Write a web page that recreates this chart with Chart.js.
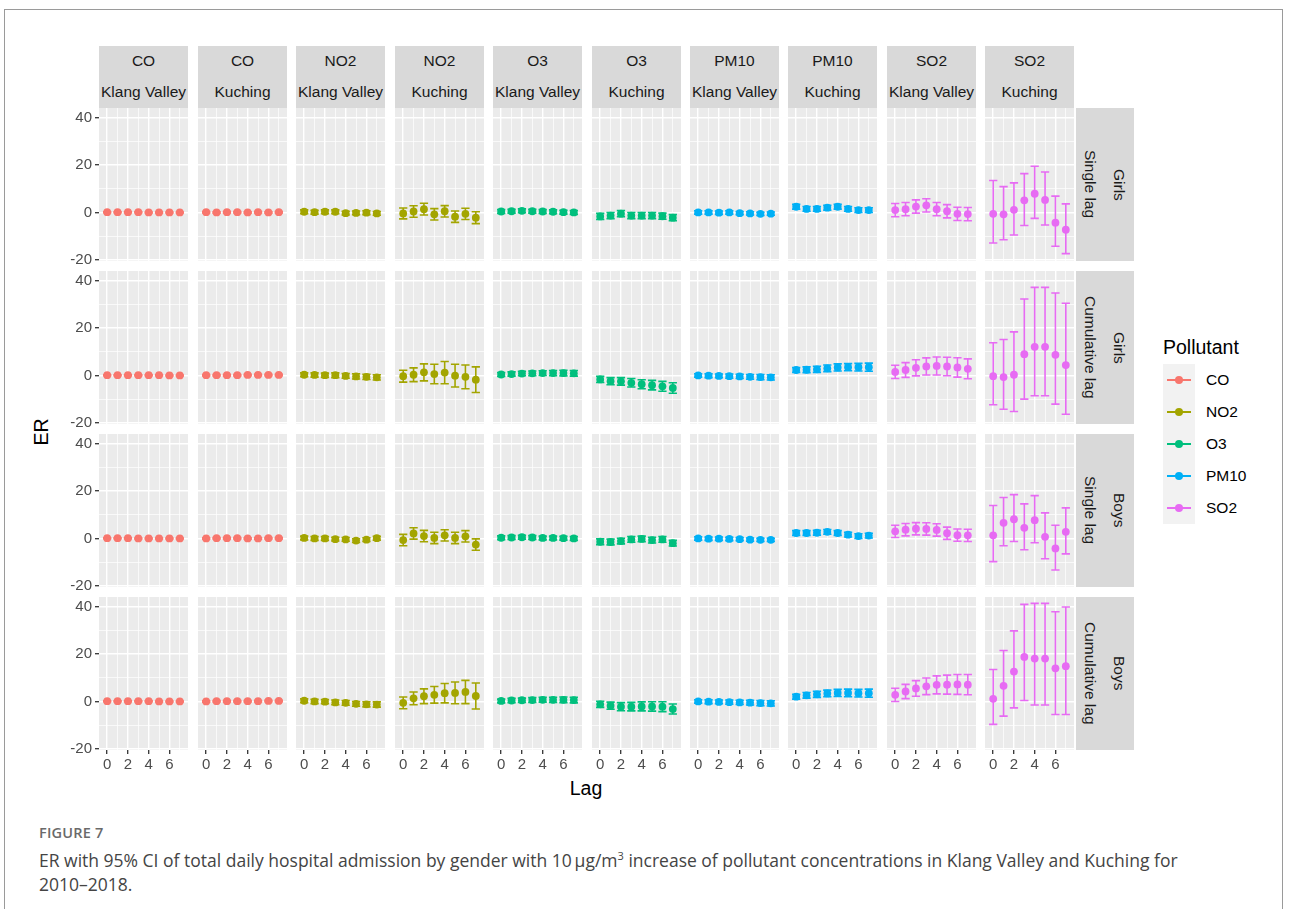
<!DOCTYPE html>
<html>
<head>
<meta charset="utf-8">
<script src="https://cdn.jsdelivr.net/npm/chart.js@4.4.1/dist/chart.umd.min.js"></script>
<style>
  body { margin: 0; width: 1290px; height: 909px; background: #fff; position: relative; overflow: hidden;
         font-family: 'Liberation Sans', Arial, sans-serif; }
  #frame { position: absolute; left: 4px; top: 9px; width: 1279px; height: 920px; border: 1px solid #9a9a9a; box-sizing: border-box; }
  canvas { position: absolute; }
  .strip { position: absolute; background: #D9D9D9; color: #1A1A1A; font-size: 15.5px; display: flex;
           align-items: center; justify-content: center; white-space: nowrap; overflow: hidden; }
  .vstrip { writing-mode: vertical-rl; }
  .title { position: absolute; color: #000; font-size: 19.5px; white-space: nowrap; }
  #legend { position: absolute; left: 1163px; top: 334px; }
  #legend .lt { font-size: 19.5px; color: #000; height: 30px; line-height: 26px; }
  #legend .row { display: flex; align-items: center; height: 32px; }
  #legend .key { width: 32px; height: 32px; background: #F2F2F2; position: relative; }
  #legend .key .ln { position: absolute; left: 4px; right: 4px; top: 15px; height: 1.6px; }
  #legend .key .dt { position: absolute; left: 12px; top: 12px; width: 8px; height: 8px; border-radius: 50%; }
  #legend .lab { margin-left: 11px; font-size: 15.5px; color: #000; }
  #fig { position: absolute; left: 39px; top: 823px; font-family: 'Open Sans', Lato, sans-serif; font-size: 14.5px;
         font-weight: 600; color: #6a6a6a; letter-spacing: 0.2px; }
  #cap { position: absolute; left: 39px; top: 848px; width: 1240px; font-family: 'Open Sans', Lato, sans-serif;
         font-size: 17.5px; line-height: 24px; color: #444; white-space: nowrap; }
  #cap sup { font-size: 11px; line-height: 0; }
</style>
</head>
<body>
<div id="frame"></div>
<script>
// facets
const lags = [0, 1, 2, 3, 4, 5, 6, 7];
const xTickLabels = [0, 2, 4, 6];
const yTickLabels = [-20, 0, 20, 40];
const yMinorTicks = [-10, 10, 30];
const pollutants = ['CO', 'NO2', 'O3', 'PM10', 'SO2'];
const locations = ['Klang Valley', 'Kuching'];
const lagTypes = ['Single lag', 'Cumulative lag', 'Single lag', 'Cumulative lag'];
const genders = ['Girls', 'Girls', 'Boys', 'Boys'];

// ER estimates and 95% CI, rows: Girls single, Girls cumulative, Boys single, Boys cumulative
const coKlangEst = [[0.1,0.1,0.1,0.1,0.0,0.0,0.0,0.0],[0.1,0.1,0.1,0.1,0.1,0.1,0.0,0.0],[0.1,0.1,0.1,0.0,0.0,0.0,0.0,0.0],[0.1,0.1,0.1,0.1,0.1,0.0,0.0,0.0]];
const coKlangLo  = [[-0.1,-0.1,-0.1,-0.1,-0.2,-0.2,-0.2,-0.2],[-0.1,-0.1,-0.1,-0.1,-0.1,-0.1,-0.2,-0.2],[-0.1,-0.1,-0.1,-0.2,-0.2,-0.2,-0.2,-0.2],[-0.1,-0.1,-0.1,-0.1,-0.1,-0.2,-0.2,-0.2]];
const coKlangHi  = [[0.3,0.3,0.3,0.3,0.2,0.2,0.2,0.2],[0.3,0.3,0.3,0.3,0.3,0.3,0.2,0.2],[0.3,0.3,0.3,0.2,0.2,0.2,0.2,0.2],[0.3,0.3,0.3,0.3,0.3,0.2,0.2,0.2]];

const coKuchingEst = [[0.1,0.0,0.1,0.1,0.0,0.1,0.0,0.1],[0.1,0.1,0.1,0.1,0.2,0.2,0.2,0.2],[0.0,0.1,0.1,0.1,0.0,0.0,0.1,0.1],[0.0,0.1,0.1,0.1,0.1,0.1,0.2,0.2]];
const coKuchingLo  = [[-0.2,-0.3,-0.2,-0.2,-0.3,-0.2,-0.3,-0.2],[-0.2,-0.2,-0.2,-0.2,-0.1,-0.1,-0.1,-0.1],[-0.3,-0.2,-0.2,-0.2,-0.3,-0.3,-0.2,-0.2],[-0.3,-0.2,-0.2,-0.2,-0.2,-0.2,-0.1,-0.1]];
const coKuchingHi  = [[0.4,0.3,0.4,0.4,0.3,0.4,0.3,0.4],[0.4,0.4,0.4,0.4,0.5,0.5,0.5,0.5],[0.3,0.4,0.4,0.4,0.3,0.3,0.4,0.4],[0.3,0.4,0.4,0.4,0.4,0.4,0.5,0.5]];

const no2KlangEst = [[0.3,0.1,0.3,0.3,-0.3,-0.2,-0.1,-0.4],[0.3,0.2,0.1,0.1,-0.2,-0.4,-0.6,-0.8],[0.2,0.0,0.0,-0.3,-0.4,-0.9,-0.5,0.1],[0.3,0.0,-0.1,-0.4,-0.6,-1.0,-1.2,-1.3]];
const no2KlangLo  = [[-0.5,-0.7,-0.5,-0.5,-1.1,-1.0,-0.9,-1.2],[-0.5,-0.7,-0.8,-0.9,-1.2,-1.5,-1.7,-1.9],[-0.6,-0.8,-0.8,-1.1,-1.2,-1.7,-1.3,-0.7],[-0.5,-0.9,-1.0,-1.4,-1.6,-2.0,-2.3,-2.4]];
const no2KlangHi  = [[1.1,0.9,1.1,1.1,0.5,0.6,0.7,0.4],[1.1,1.1,1.0,1.1,0.8,0.7,0.5,0.3],[1.0,0.8,0.8,0.5,0.4,-0.1,0.3,0.9],[1.1,0.9,0.8,0.6,0.4,0.0,-0.1,-0.2]];

const no2KuchingEst = [[-0.4,0.4,1.4,-0.8,0.5,-1.8,-0.6,-2.2],[-0.3,0.3,1.3,0.6,1.2,-0.1,-0.6,-1.8],[-0.7,2.1,1.0,0.2,1.3,0.2,0.9,-2.6],[-0.6,1.3,2.2,2.8,3.5,3.6,4.0,2.3]];
const no2KuchingLo  = [[-2.7,-2.0,-1.1,-3.2,-1.9,-4.2,-3.0,-4.7],[-2.8,-2.6,-2.3,-3.5,-3.5,-4.9,-5.6,-7.2],[-3.1,-0.3,-1.4,-2.2,-1.1,-2.2,-1.5,-5.0],[-3.1,-1.4,-0.9,-0.7,-0.6,-1.0,-0.9,-3.2]];
const no2KuchingHi  = [[1.9,2.8,3.9,1.6,2.9,0.6,1.8,0.3],[2.2,3.2,4.9,4.7,5.9,4.7,4.4,3.6],[1.7,4.5,3.4,2.6,3.7,2.6,3.3,-0.2],[1.9,4.0,5.3,6.3,7.6,8.2,8.9,7.8]];

const o3KlangEst = [[0.4,0.5,0.7,0.5,0.4,0.3,0.1,0.0],[0.4,0.6,0.8,0.9,1.0,1.0,1.0,0.9],[0.3,0.4,0.5,0.4,0.2,0.2,0.1,0.0],[0.2,0.4,0.5,0.6,0.7,0.7,0.7,0.6]];
const o3KlangLo  = [[-0.4,-0.3,-0.1,-0.3,-0.4,-0.5,-0.7,-0.8],[-0.4,-0.3,-0.1,-0.1,0.0,-0.1,-0.2,-0.3],[-0.5,-0.4,-0.3,-0.4,-0.6,-0.6,-0.7,-0.8],[-0.6,-0.5,-0.4,-0.4,-0.3,-0.4,-0.5,-0.6]];
const o3KlangHi  = [[1.2,1.3,1.5,1.3,1.2,1.1,0.9,0.8],[1.2,1.5,1.7,1.9,2.0,2.1,2.2,2.1],[1.1,1.2,1.3,1.2,1.0,1.0,0.9,0.8],[1.0,1.3,1.4,1.6,1.7,1.8,1.9,1.8]];

const o3KuchingEst = [[-1.7,-1.3,-0.5,-1.3,-1.3,-1.3,-1.6,-2.2],[-1.7,-2.4,-2.5,-3.1,-3.7,-4.1,-4.6,-5.3],[-1.4,-1.5,-1.1,-0.4,-0.2,-0.7,-0.4,-2.0],[-1.2,-1.8,-2.2,-2.2,-2.1,-2.1,-2.2,-3.2]];
const o3KuchingLo  = [[-3.0,-2.6,-1.8,-2.6,-2.6,-2.6,-2.9,-3.5],[-3.0,-3.9,-4.1,-4.9,-5.6,-6.1,-6.7,-7.5],[-2.6,-2.7,-2.3,-1.6,-1.4,-1.9,-1.6,-3.2],[-2.5,-3.3,-3.9,-4.0,-4.0,-4.1,-4.3,-5.3]];
const o3KuchingHi  = [[-0.4,0.0,0.8,0.0,0.0,0.0,-0.3,-0.9],[-0.4,-0.9,-0.9,-1.3,-1.8,-2.1,-2.5,-3.1],[-0.2,-0.3,0.1,0.8,1.0,0.5,0.8,-0.8],[0.1,-0.3,-0.5,-0.4,-0.2,-0.1,-0.1,-1.1]];

const pm10KlangEst = [[0.0,0.0,-0.1,0.0,-0.3,-0.4,-0.6,-0.5],[0.0,-0.1,-0.2,-0.3,-0.4,-0.6,-0.7,-0.8],[0.0,-0.1,-0.1,-0.2,-0.3,-0.5,-0.6,-0.6],[0.0,-0.1,-0.2,-0.3,-0.4,-0.5,-0.7,-0.8]];
const pm10KlangLo  = [[-0.7,-0.7,-0.8,-0.7,-1.0,-1.1,-1.3,-1.2],[-0.7,-0.9,-1.0,-1.2,-1.3,-1.6,-1.8,-1.9],[-0.7,-0.8,-0.8,-0.9,-1.0,-1.2,-1.3,-1.3],[-0.7,-0.9,-1.0,-1.2,-1.3,-1.5,-1.8,-1.9]];
const pm10KlangHi  = [[0.7,0.7,0.6,0.7,0.4,0.3,0.1,0.2],[0.7,0.7,0.6,0.6,0.5,0.4,0.4,0.3],[0.7,0.6,0.6,0.5,0.4,0.2,0.1,0.1],[0.7,0.7,0.6,0.6,0.5,0.5,0.4,0.3]];

const pm10KuchingEst = [[2.4,1.5,1.5,2.0,2.4,1.5,1.0,1.0],[2.3,2.4,2.6,3.0,3.4,3.5,3.5,3.5],[2.3,2.3,2.4,2.8,2.3,1.6,1.0,1.2],[2.0,2.6,3.0,3.4,3.6,3.6,3.5,3.5]];
const pm10KuchingLo  = [[1.4,0.5,0.5,1.0,1.4,0.5,0.0,0.0],[1.3,1.2,1.3,1.6,1.9,2.0,1.9,1.8],[1.3,1.3,1.4,1.8,1.3,0.6,0.0,0.2],[1.0,1.4,1.7,2.0,2.1,2.0,1.9,1.8]];
const pm10KuchingHi  = [[3.4,2.5,2.5,3.0,3.4,2.5,2.0,2.0],[3.3,3.6,3.9,4.4,4.9,5.0,5.1,5.2],[3.3,3.3,3.4,3.8,3.3,2.6,2.0,2.2],[3.0,3.8,4.3,4.8,5.1,5.2,5.1,5.2]];

const so2KlangEst = [[1.0,1.4,2.5,3.0,1.4,0.5,-0.6,-0.7],[1.5,2.3,3.2,3.8,4.0,3.8,3.4,2.8],[3.0,3.7,4.1,4.0,3.6,2.2,1.4,1.3],[2.8,4.2,5.5,6.4,7.0,7.1,7.2,7.1]];
const so2KlangLo  = [[-1.8,-1.4,-0.3,0.2,-1.4,-2.3,-3.4,-3.5],[-1.3,-0.8,-0.2,0.2,0.2,-0.1,-0.7,-1.4],[0.4,1.1,1.5,1.4,1.0,-0.4,-1.2,-1.3],[0.0,1.2,2.2,2.9,3.2,3.1,3.0,2.8]];
const so2KlangHi  = [[3.8,4.2,5.3,5.8,4.2,3.3,2.2,2.1],[4.3,5.4,6.6,7.4,7.8,7.7,7.5,7.0],[5.6,6.3,6.7,6.6,6.2,4.8,4.0,3.9],[5.6,7.2,8.8,9.9,10.8,11.1,11.4,11.4]];

const so2KuchingEst = [[-0.6,-0.8,1.1,5.1,7.9,5.3,-4.3,-7.3],[-0.3,-0.7,0.3,9.0,12.1,12.1,8.7,4.4],[1.3,6.6,8.1,4.5,7.7,0.7,-4.2,2.8],[1.1,6.6,12.6,18.8,18.1,18.1,14.0,14.9]];
const so2KuchingLo  = [[-12.9,-11.5,-9.5,-5.5,-2.5,-5.3,-14.3,-17.4],[-12.4,-14.3,-15.2,-10.0,-8.6,-8.6,-12.1,-16.4],[-9.8,-3.1,-1.3,-4.8,-1.8,-8.6,-13.3,-6.5],[-9.7,-6.2,-2.7,0.4,-1.5,-1.5,-5.5,-5.5]];
const so2KuchingHi  = [[13.5,10.9,12.5,16.4,19.5,17.1,6.9,3.6],[13.8,15.2,18.4,32.3,37.2,37.2,34.8,30.5],[13.9,17.3,18.5,14.6,18.1,10.8,5.6,12.9],[13.5,21.5,29.8,41.0,41.4,41.4,37.9,39.9]];

const panels = [
  { pol: 'CO',   loc: 'Klang Valley', est: coKlangEst,     lo: coKlangLo,     hi: coKlangHi },
  { pol: 'CO',   loc: 'Kuching',      est: coKuchingEst,   lo: coKuchingLo,   hi: coKuchingHi },
  { pol: 'NO2',  loc: 'Klang Valley', est: no2KlangEst,    lo: no2KlangLo,    hi: no2KlangHi },
  { pol: 'NO2',  loc: 'Kuching',      est: no2KuchingEst,  lo: no2KuchingLo,  hi: no2KuchingHi },
  { pol: 'O3',   loc: 'Klang Valley', est: o3KlangEst,     lo: o3KlangLo,     hi: o3KlangHi },
  { pol: 'O3',   loc: 'Kuching',      est: o3KuchingEst,   lo: o3KuchingLo,   hi: o3KuchingHi },
  { pol: 'PM10', loc: 'Klang Valley', est: pm10KlangEst,   lo: pm10KlangLo,   hi: pm10KlangHi },
  { pol: 'PM10', loc: 'Kuching',      est: pm10KuchingEst, lo: pm10KuchingLo, hi: pm10KuchingHi },
  { pol: 'SO2',  loc: 'Klang Valley', est: so2KlangEst,    lo: so2KlangLo,    hi: so2KlangHi },
  { pol: 'SO2',  loc: 'Kuching',      est: so2KuchingEst,  lo: so2KuchingLo,  hi: so2KuchingHi }
];

const colors = { CO: '#F8766D', NO2: '#A3A500', O3: '#00BF7D', PM10: '#00B0F6', SO2: '#E76BF3' };

// layout (px)
const COL_X0 = 99.3, COL_PITCH = 98.45, PANEL_W = 89;
const ROW_Y0 = 107.5, ROW_PITCH = 163.3, PANEL_H = 153;
const AXIS_W = 40, AXIS_H = 26, LABEL_PAD = 10;
const X_MIN = -0.79, X_MAX = 7.79, Y_MIN = -20.5, Y_MAX = 44.1;
const CAP = 0.4;
const tickFont = { family: "'Liberation Sans', Arial, sans-serif", size: 15 };

const panelBg = {
  id: 'panelBg',
  beforeDraw(chart) {
    const { ctx, chartArea: a } = chart;
    ctx.save();
    ctx.fillStyle = '#EBEBEB';
    ctx.fillRect(a.left, a.top, a.right - a.left, a.bottom - a.top);
    ctx.restore();
  }
};

const errorBars = {
  id: 'errorBars',
  beforeDatasetsDraw(chart) {
    const { ctx, scales: { x, y } } = chart;
    chart.data.datasets.forEach(ds => {
      ctx.save();
      ctx.strokeStyle = ds.backgroundColor;
      ctx.lineWidth = 1.6;
      ds.data.forEach(p => {
        const px = x.getPixelForValue(p.x);
        const xa = x.getPixelForValue(p.x - CAP), xb = x.getPixelForValue(p.x + CAP);
        const yl = y.getPixelForValue(p.lo), yh = y.getPixelForValue(p.hi);
        ctx.beginPath();
        ctx.moveTo(px, yl); ctx.lineTo(px, yh);
        ctx.moveTo(xa, yl); ctx.lineTo(xb, yl);
        ctx.moveTo(xa, yh); ctx.lineTo(xb, yh);
        ctx.stroke();
      });
      ctx.restore();
    });
  }
};

// tick labels may hang over the panel edge, so the scales must not reserve room for them
function noPad(ax) {
  ax.paddingTop = 0; ax.paddingBottom = 0; ax.paddingLeft = 0; ax.paddingRight = 0;
}

function scalesFor(isLeft, isBottom) {
  return {
    x: {
      type: 'linear', position: 'bottom', min: X_MIN, max: X_MAX,
      afterBuildTicks: ax => { ax.ticks = lags.map(v => ({ value: v })); },
      afterFit: ax => { ax.height = isBottom ? AXIS_H : 0; noPad(ax); },
      border: { display: false },
      grid: {
        color: '#fff',
        lineWidth: c => xTickLabels.includes(c.tick.value) ? 1.4 : 0.7,
        drawTicks: isBottom, tickLength: 4, tickWidth: 1.3,
        tickColor: c => xTickLabels.includes(c.tick.value) ? '#333' : 'rgba(0,0,0,0)'
      },
      ticks: {
        display: isBottom, autoSkip: false, maxRotation: 0, padding: 2, color: '#4D4D4D', font: tickFont,
        callback: v => xTickLabels.includes(v) ? String(v) : ''
      }
    },
    y: {
      type: 'linear', position: 'left', min: Y_MIN, max: Y_MAX,
      afterBuildTicks: ax => { ax.ticks = yTickLabels.concat(yMinorTicks).sort((a, b) => a - b).map(v => ({ value: v })); },
      afterFit: ax => { ax.width = isLeft ? AXIS_W : 0; noPad(ax); },
      border: { display: false },
      grid: {
        color: '#fff',
        lineWidth: c => yTickLabels.includes(c.tick.value) ? 1.4 : 0.7,
        drawTicks: isLeft, tickLength: 4, tickWidth: 1.3,
        tickColor: c => yTickLabels.includes(c.tick.value) ? '#333' : 'rgba(0,0,0,0)'
      },
      ticks: {
        display: isLeft, autoSkip: false, padding: 3, color: '#4D4D4D', font: tickFont,
        callback: v => yTickLabels.includes(v) ? String(v) : ''
      }
    }
  };
}

function addDiv(cls, text, left, top, w, h) {
  const d = document.createElement('div');
  d.className = cls;
  d.textContent = text;
  Object.assign(d.style, { left: left + 'px', top: top + 'px', width: w + 'px', height: h + 'px' });
  document.body.appendChild(d);
  return d;
}

panels.forEach((p, c) => {
  const left = Math.round(COL_X0 + c * COL_PITCH);
  addDiv('strip', p.pol, left, 46, PANEL_W, 30);
  addDiv('strip', p.loc, left, 76, PANEL_W, 32);
  for (let r = 0; r < 4; r++) {
    const top = Math.round(ROW_Y0 + r * ROW_PITCH);
    const isLeft = c === 0, isBottom = r === 3;
    // left column canvases get extra room above/below so the end tick labels are not cut off
    const padTop = isLeft ? LABEL_PAD : 0;
    const padBottom = isLeft && !isBottom ? LABEL_PAD : 0;
    const cv = document.createElement('canvas');
    cv.width = PANEL_W + (isLeft ? AXIS_W : 0);
    cv.height = PANEL_H + (isBottom ? AXIS_H : 0) + padTop + padBottom;
    cv.style.left = (left - (isLeft ? AXIS_W : 0)) + 'px';
    cv.style.top = (top - padTop) + 'px';
    document.body.appendChild(cv);
    const pts = lags.map((lag, i) => ({ x: lag, y: p.est[r][i], lo: p.lo[r][i], hi: p.hi[r][i] }));
    new Chart(cv, {
      type: 'scatter',
      data: { datasets: [{ data: pts, backgroundColor: colors[p.pol], borderWidth: 0, pointRadius: 3.9, pointHoverRadius: 3.9 }] },
      options: {
        responsive: false, animation: false, devicePixelRatio: 1, events: [],
        layout: { padding: { top: padTop, bottom: padBottom, left: 0, right: 0 }, autoPadding: false },
        plugins: { legend: { display: false }, tooltip: { enabled: false } },
        scales: scalesFor(isLeft, isBottom)
      },
      plugins: [panelBg, errorBars]
    });
  }
});

// row strips
for (let r = 0; r < 4; r++) {
  const top = Math.round(ROW_Y0 + r * ROW_PITCH);
  addDiv('strip vstrip', lagTypes[r], 1076, top, 28, PANEL_H);
  addDiv('strip vstrip', genders[r], 1104, top, 30, PANEL_H);
}

// axis titles
const er = addDiv('title', 'ER', 41, 432, 'auto', 'auto');
er.style.width = ''; er.style.height = '';
er.style.transform = 'translate(-50%, -50%) rotate(-90deg)';
const lagT = addDiv('title', 'Lag', 586, 788, 'auto', 'auto');
lagT.style.width = ''; lagT.style.height = '';
lagT.style.transform = 'translate(-50%, -50%)';

// legend
const lg = document.createElement('div');
lg.id = 'legend';
let html = '<div class="lt">Pollutant</div>';
pollutants.forEach(n => {
  html += '<div class="row"><div class="key"><div class="ln" style="background:' + colors[n] + '"></div>' +
          '<div class="dt" style="background:' + colors[n] + '"></div></div><div class="lab">' + n + '</div></div>';
});
lg.innerHTML = html;
document.body.appendChild(lg);

// caption
const fig = document.createElement('div');
fig.id = 'fig';
fig.textContent = 'FIGURE 7';
document.body.appendChild(fig);
const cap = document.createElement('div');
cap.id = 'cap';
cap.innerHTML = 'ER with 95% CI of total daily hospital admission by gender with 10&thinsp;μg/m<sup>3</sup> increase of pollutant concentrations in Klang Valley and Kuching for<br>2010–2018.';
document.body.appendChild(cap);
</script>
</body>
</html>
